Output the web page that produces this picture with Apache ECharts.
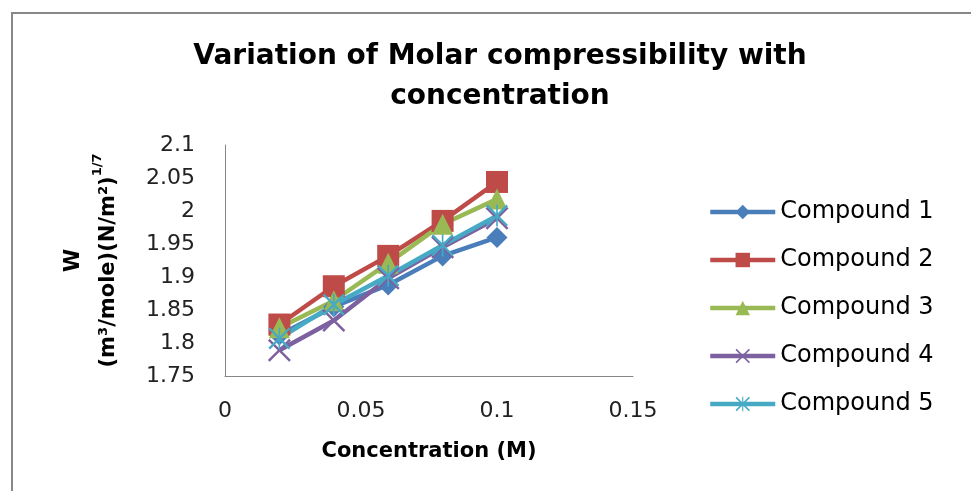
<!DOCTYPE html>
<html>
<head>
<meta charset="utf-8">
<script src="https://cdn.jsdelivr.net/npm/echarts@6/dist/echarts.min.js"></script>
<style>
html,body{margin:0;padding:0;background:#fff;}
#chart{width:971px;height:491px;}
</style>
</head>
<body>
<div id="chart"></div>
<script>
var concentration = [0.02, 0.04, 0.06, 0.08, 0.1];
var seriesNames = ['Compound 1', 'Compound 2', 'Compound 3', 'Compound 4', 'Compound 5'];
var compound1 = [1.812, 1.855, 1.888, 1.932, 1.960];
var compound2 = [1.828, 1.886, 1.932, 1.985, 2.044];
var compound3 = [1.823, 1.864, 1.921, 1.980, 2.018];
var compound4 = [1.789, 1.834, 1.898, 1.945, 1.989];
var compound5 = [1.807, 1.858, 1.902, 1.948, 1.993];
var xTicks = {min: 0, max: 0.15, interval: 0.05};
var yTicks = {min: 1.75, max: 2.1, interval: 0.05};

var colors = ['#4A7EBB', '#BE4B48', '#98B954', '#7D60A0', '#46AAC5'];
var xPath = 'path://M0,1.5 L1.5,0 L20,18.5 L18.5,20 Z M18.5,0 L20,1.5 L1.5,20 L0,18.5 Z';
var starPath = 'path://M0,1.5 L1.5,0 L20,18.5 L18.5,20 Z M18.5,0 L20,1.5 L1.5,20 L0,18.5 Z M9.25,0 L10.75,0 L10.75,20 L9.25,20 Z';
var symbols = ['diamond', 'rect', 'triangle', xPath, starPath];
var symbolSizes = [21, 22, 21, 23, 22];
var allData = [compound1, compound2, compound3, compound4, compound5];

var font = 'DejaVu Sans';
var series = allData.map(function (vals, i) {
  return {
    name: seriesNames[i],
    type: 'line',
    data: concentration.map(function (c, j) { return [c, vals[j]]; }),
    symbol: symbols[i],
    symbolSize: symbolSizes[i],
    showAllSymbol: true,
    lineStyle: {color: colors[i], width: 4.5},
    itemStyle: {color: colors[i]},
    emphasis: {disabled: true},
    animation: false
  };
});

var chart = echarts.init(document.getElementById('chart'), null, {renderer: 'canvas'});
chart.setOption({
  backgroundColor: '#ffffff',
  animation: false,
  title: {
    text: 'Variation of Molar compressibility with\nconcentration',
    left: 495,
    textAlign: 'center',
    top: 32,
    textStyle: {fontFamily: font, fontWeight: 'bold', fontSize: 28, lineHeight: 40, color: '#000'}
  },
  graphic: [{
    type: 'rect',
    shape: {x: 12, y: 13, width: 1200, height: 1200},
    style: {fill: 'none', stroke: '#878787', lineWidth: 2},
    silent: true
  }],
  legend: {
    orient: 'vertical',
    left: 703,
    top: 195,
    itemWidth: 65,
    itemHeight: 18,
    itemGap: 24,
    data: seriesNames,
    lineStyle: {width: 4.5},
    textStyle: {fontFamily: font, fontSize: 24, color: '#000'}
  },
  grid: {left: 225, top: 145, right: 338, bottom: 115, containLabel: false},
  xAxis: {
    type: 'value',
    min: xTicks.min, max: xTicks.max, interval: xTicks.interval,
    name: 'Concentration (M)',
    nameLocation: 'middle',
    nameGap: 65,
    nameTextStyle: {fontFamily: font, fontWeight: 'bold', fontSize: 21, color: '#000'},
    axisLine: {lineStyle: {color: '#868686', width: 1}},
    axisTick: {show: false},
    splitLine: {show: false},
    axisLabel: {fontFamily: font, fontSize: 22, color: '#222', margin: 24,
      formatter: function (v) { return String(+v.toFixed(2)); }}
  },
  yAxis: {
    type: 'value',
    min: yTicks.min, max: yTicks.max, interval: yTicks.interval,
    name: '{b|W}\n{b|(m³/mole)(N/m²)}{s|1/7}',
    nameLocation: 'middle',
    nameRotate: 90,
    nameGap: 99,
    nameTextStyle: {
      fontFamily: font, fontWeight: 'bold', fontSize: 21, color: '#000', lineHeight: 35,
      rich: {
        b: {fontFamily: font, fontWeight: 'bold', fontSize: 21, color: '#000', lineHeight: 35},
        s: {fontFamily: font, fontWeight: 'bold', fontSize: 13, color: '#000', lineHeight: 35, verticalAlign: 'top', padding: [0, 0, 8, 0]}
      }
    },
    axisLine: {show: true, lineStyle: {color: '#868686', width: 1}},
    axisTick: {show: false},
    splitLine: {show: false},
    axisLabel: {fontFamily: font, fontSize: 22, color: '#222', margin: 30,
      formatter: function (v) { return String(+v.toFixed(2)); }}
  },
  series: series
});
</script>
</body>
</html>
